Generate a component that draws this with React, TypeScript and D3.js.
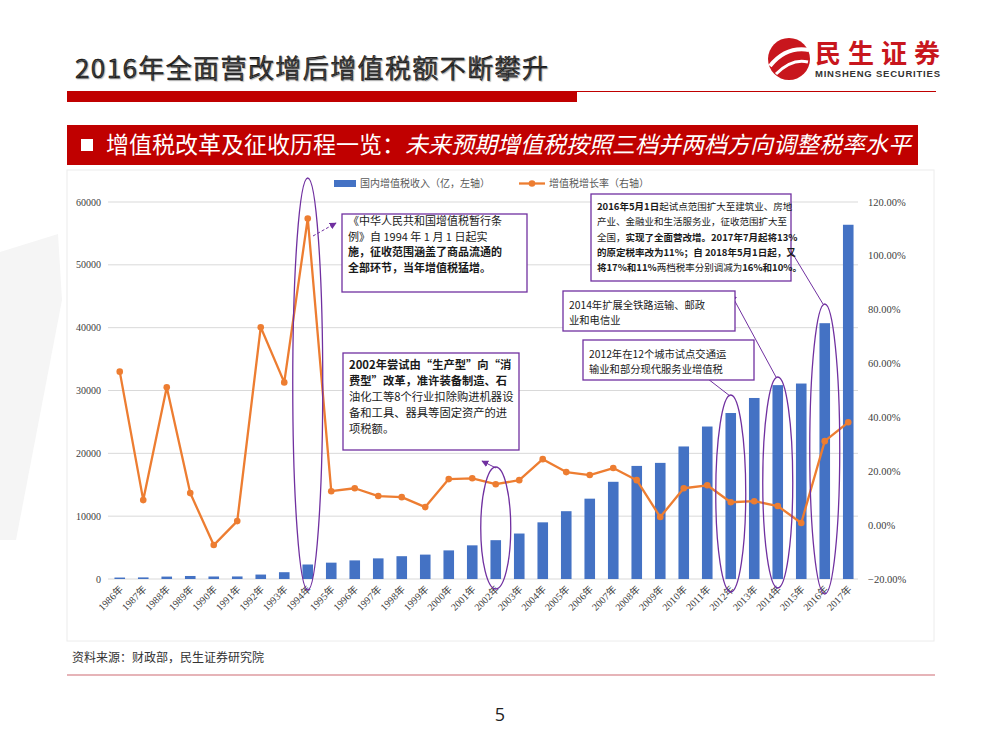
import * as React from 'react';
import * as d3 from 'd3';

// chart data
const years = [
  '1986年', '1987年', '1988年', '1989年', '1990年', '1991年', '1992年', '1993年',
  '1994年', '1995年', '1996年', '1997年', '1998年', '1999年', '2000年', '2001年',
  '2002年', '2003年', '2004年', '2005年', '2006年', '2007年', '2008年', '2009年',
  '2010年', '2011年', '2012年', '2013年', '2014年', '2015年', '2016年', '2017年',
];
const vatRevenue = [
  232, 254, 385, 481, 400, 406, 707, 1081,
  2308, 2602, 2962, 3283, 3628, 3882, 4553, 5357,
  6178, 7237, 9018, 10792, 12785, 15470, 17997, 18481,
  21093, 24267, 26416, 28810, 30855, 31109, 40712, 56378,
];
const vatGrowth = [
  57.0, 9.3, 51.2, 11.9, -7.4, 1.5, 73.5, 53.0,
  113.9, 12.6, 13.7, 10.8, 10.4, 6.7, 17.1, 17.4,
  15.2, 16.7, 24.5, 19.7, 18.6, 21.2, 16.7, 3.0,
  13.7, 14.8, 8.5, 8.9, 7.1, 0.8, 31.2, 38.2,
];
const leftTicks = [0, 10000, 20000, 30000, 40000, 50000, 60000];
const rightTicks = [-20, 0, 20, 40, 60, 80, 100, 120];
const legendLabels = ['国内增值税收入（亿，左轴）', '增值税增长率（右轴）'];

// highlighted years (ellipses): year, top y, bottom y
const circledYears = [
  { year: '1994年', top: 178, bottom: 590 },
  { year: '2002年', top: 467, bottom: 589 },
  { year: '2012年', top: 395, bottom: 592 },
  { year: '2014年', top: 377, bottom: 588 },
  { year: '2016年', top: 304, bottom: 594 },
];

type Seg = [string, boolean];
const notes: { x: number, y: number, w: number, h: number, fs: number, lh: number, base: number, lines: Seg[][] }[] = [
  {
    x: 342, y: 214, w: 185, h: 78, fs: 11, lh: 15.5, base: 225,
    lines: [
      [['《中华人民共和国增值税暂行条', false]],
      [['例》自 1994 年 1 月 1 日起实', false]],
      [['施，征收范围涵盖了商品流通的', true]],
      [['全部环节，当年增值税猛增。', true]],
    ],
  },
  {
    x: 591, y: 194, w: 200, h: 87, fs: 9.5, lh: 15.3, base: 210,
    lines: [
      [['2016年5月1日', true], ['起试点范围扩大至建筑业、房地', false]],
      [['产业、金融业和生活服务业，征收范围扩大至', false]],
      [['全国，', false], ['实现了全面营改增。2017年7月起将13%', true]],
      [['的原定税率改为11%；自 2018年5月1日起，又', true]],
      [['将17%和11%', true], ['两档税率分别调减为', false], ['16%和10%。', true]],
    ],
  },
  {
    x: 563, y: 291, w: 172, h: 40, fs: 10.3, lh: 14.5, base: 309,
    lines: [
      [['2014年扩展全铁路运输、邮政', false]],
      [['业和电信业', false]],
    ],
  },
  {
    x: 583, y: 340, w: 171, h: 40, fs: 10.3, lh: 14.5, base: 358,
    lines: [
      [['2012年在12个城市试点交通运', false]],
      [['输业和部分现代服务业增值税', false]],
    ],
  },
  {
    x: 343, y: 353, w: 176, h: 97, fs: 11.3, lh: 16, base: 369,
    lines: [
      [['2002年尝试由“生产型”向“消', true]],
      [['费型”改革，准许装备制造、石', true]],
      [['油化工等8个行业扣除购进机器设', false]],
      [['备和工具、器具等固定资产的进', false]],
      [['项税额。', false]],
    ],
  },
];

// pointer lines from the ellipses to the boxes
const pointers = [
  { x1: 313, y1: 236, x2: 336, y2: 223, dashed: true },
  { x1: 823, y1: 304, x2: 785, y2: 241, dashed: false },
  { x1: 776, y1: 377, x2: 731, y2: 294, dashed: false },
  { x1: 730, y1: 396, x2: 699, y2: 372, dashed: false },
  { x1: 496, y1: 468, x2: 482, y2: 461, dashed: false },
];

const BLUE = '#4472C4';
const ORANGE = '#ED7D31';
const PURPLE = '#7030A0';
const RED = '#C00000';
const CJK = '"Noto Sans CJK SC", sans-serif';
const SERIF = '"Liberation Serif", "Noto Sans CJK SC", serif';

const drawChart = (node: SVGSVGElement) => {
  const svg = d3.select(node);
  svg.selectAll('*').remove();

  const defs = svg.append('defs');
  defs.append('marker')
    .attr('id', 'arrow')
    .attr('viewBox', '0 0 10 10')
    .attr('refX', 9)
    .attr('refY', 5)
    .attr('markerWidth', 7)
    .attr('markerHeight', 7)
    .attr('markerUnits', 'userSpaceOnUse')
    .attr('orient', 'auto')
    .append('path')
    .attr('d', 'M0,0 L10,5 L0,10 z')
    .attr('fill', PURPLE);

  // faint watermark on the left
  svg.append('polygon')
    .attr('points', '0,252 58,234 62,300 16,540 0,540')
    .attr('fill', '#F5F5F5');

  // page header
  svg.append('text')
    .attr('x', 75)
    .attr('y', 78)
    .attr('font-family', CJK)
    .attr('font-size', 26)
    .attr('font-weight', 400)
    .attr('fill', '#1a1a1a')
    .attr('stroke', '#000')
    .attr('stroke-width', 0.4)
    .attr('textLength', 473)
    .style('text-shadow', '1px 1px 1px #aaa')
    .text('2016年全面营改增后增值税额不断攀升');

  svg.append('rect').attr('x', 67).attr('y', 91).attr('width', 510).attr('height', 11).attr('fill', RED);
  svg.append('line')
    .attr('x1', 577).attr('x2', 936).attr('y1', 91.5).attr('y2', 91.5)
    .attr('stroke', RED).attr('stroke-width', 1.2);

  // logo
  const logo = svg.append('g');
  logo.append('circle').attr('cx', 789).attr('cy', 59).attr('r', 21).attr('fill', '#C8161D');
  logo.append('path')
    .attr('d', 'M770,66 Q786,46 809,50')
    .attr('fill', 'none').attr('stroke', '#fff').attr('stroke-width', 4);
  logo.append('path')
    .attr('d', 'M776,74 Q792,58 808,62')
    .attr('fill', 'none').attr('stroke', '#fff').attr('stroke-width', 3);
  logo.append('text')
    .attr('x', 815).attr('y', 63)
    .attr('font-family', CJK).attr('font-size', 26).attr('font-weight', 700)
    .attr('fill', '#C8161D')
    .attr('textLength', 125)
    .text('民生证券');
  logo.append('text')
    .attr('x', 815).attr('y', 77)
    .attr('font-family', '"Liberation Sans", Arial, sans-serif').attr('font-size', 9.5).attr('font-weight', 700)
    .attr('fill', '#333')
    .attr('textLength', 125)
    .text('MINSHENG SECURITIES');

  // section banner
  svg.append('rect').attr('x', 67).attr('y', 125).attr('width', 851).attr('height', 40).attr('fill', RED);
  svg.append('rect').attr('x', 81).attr('y', 139).attr('width', 12).attr('height', 12).attr('fill', '#fff');
  const banner = svg.append('text')
    .attr('x', 106).attr('y', 153)
    .attr('font-family', CJK).attr('font-size', 23).attr('font-weight', 400)
    .attr('fill', '#fff');
  banner.append('tspan').text('增值税改革及征收历程一览：');
  banner.append('tspan').attr('font-style', 'italic').text('未来预期增值税按照三档并两档方向调整税率水平');

  // chart frame
  svg.append('rect')
    .attr('x', 67).attr('y', 170).attr('width', 867).attr('height', 471)
    .attr('fill', 'none').attr('stroke', '#ECECEC');

  // scales
  const x = d3.scaleBand<string>()
    .domain(years)
    .range([108, 860])
    .paddingInner(0.55)
    .paddingOuter(0.275);
  const xc = (yr: string) => (x(yr) as number) + x.bandwidth() / 2;
  const yL = d3.scaleLinear().domain([0, 60000]).range([579, 202]);
  const yR = d3.scaleLinear().domain([-20, 120]).range([579, 202]);

  // gridlines + left labels
  const grid = svg.append('g');
  leftTicks.forEach((t) => {
    grid.append('line')
      .attr('x1', 108).attr('x2', 858)
      .attr('y1', yL(t)).attr('y2', yL(t))
      .attr('stroke', '#D9D9D9').attr('stroke-width', 1);
    grid.append('text')
      .attr('x', 101).attr('y', yL(t) + 3.5)
      .attr('text-anchor', 'end')
      .attr('font-family', SERIF).attr('font-size', 10)
      .attr('fill', '#404040')
      .text(t);
  });

  // right labels
  rightTicks.forEach((t) => {
    svg.append('text')
      .attr('x', 868).attr('y', yR(t) + 3.5)
      .attr('font-family', SERIF).attr('font-size', 10.5)
      .attr('fill', '#404040')
      .text(`${d3.format('.2f')(t)}%`);
  });

  // bars
  svg.append('g')
    .selectAll('rect')
    .data(vatRevenue)
    .join('rect')
    .attr('x', (d, i) => x(years[i]) as number)
    .attr('y', d => yL(d))
    .attr('width', x.bandwidth())
    .attr('height', d => yL(0) - yL(d))
    .attr('fill', BLUE);

  // growth line
  const line = d3.line<number>()
    .x((d, i) => xc(years[i]))
    .y(d => yR(d));
  svg.append('path')
    .datum(vatGrowth)
    .attr('d', line)
    .attr('fill', 'none')
    .attr('stroke', ORANGE)
    .attr('stroke-width', 2.3)
    .attr('stroke-linejoin', 'round');
  svg.append('g')
    .selectAll('circle')
    .data(vatGrowth)
    .join('circle')
    .attr('cx', (d, i) => xc(years[i]))
    .attr('cy', d => yR(d))
    .attr('r', 3.3)
    .attr('fill', ORANGE);

  // x labels
  const xl = svg.append('g');
  years.forEach((yr) => {
    xl.append('text')
      .attr('transform', `translate(${xc(yr) + 4},${590}) rotate(-45)`)
      .attr('text-anchor', 'end')
      .attr('font-family', SERIF).attr('font-size', 10)
      .attr('fill', '#404040')
      .text(yr);
  });

  // legend
  const lg = svg.append('g').attr('font-family', CJK).attr('font-size', 10).attr('fill', '#595959');
  lg.append('rect').attr('x', 334).attr('y', 180).attr('width', 22).attr('height', 7).attr('fill', BLUE);
  lg.append('text').attr('x', 360).attr('y', 187).text(legendLabels[0]);
  lg.append('line').attr('x1', 519).attr('x2', 545).attr('y1', 183.5).attr('y2', 183.5)
    .attr('stroke', ORANGE).attr('stroke-width', 2.3);
  lg.append('circle').attr('cx', 532).attr('cy', 183.5).attr('r', 3.3).attr('fill', ORANGE);
  lg.append('text').attr('x', 549).attr('y', 187).text(legendLabels[1]);

  // ellipses
  circledYears.forEach((c) => {
    svg.append('ellipse')
      .attr('cx', xc(c.year))
      .attr('cy', (c.top + c.bottom) / 2)
      .attr('rx', 15)
      .attr('ry', (c.bottom - c.top) / 2)
      .attr('fill', 'none')
      .attr('stroke', PURPLE)
      .attr('stroke-width', 1.3);
  });

  // pointers
  pointers.forEach((p) => {
    svg.append('line')
      .attr('x1', p.x1).attr('y1', p.y1).attr('x2', p.x2).attr('y2', p.y2)
      .attr('stroke', PURPLE).attr('stroke-width', 1)
      .attr('stroke-dasharray', p.dashed ? '3,2' : null)
      .attr('marker-end', 'url(#arrow)');
  });

  // note boxes
  notes.forEach((n) => {
    const g = svg.append('g');
    g.append('rect')
      .attr('x', n.x).attr('y', n.y).attr('width', n.w).attr('height', n.h)
      .attr('fill', '#fff').attr('stroke', PURPLE).attr('stroke-width', 1.3);
    n.lines.forEach((segs, li) => {
      const t = g.append('text')
        .attr('x', n.x + 6)
        .attr('y', n.base + li * n.lh)
        .attr('font-family', CJK)
        .attr('font-size', n.fs)
        .attr('fill', '#1a1a1a');
      segs.forEach(([s, bold]) => {
        t.append('tspan').attr('font-weight', bold ? 700 : 400).text(s);
      });
    });
  });

  // footer
  svg.append('text')
    .attr('x', 72).attr('y', 662)
    .attr('font-family', CJK).attr('font-size', 12)
    .attr('fill', '#333')
    .text('资料来源：财政部，民生证券研究院');
  svg.append('line')
    .attr('x1', 67).attr('x2', 935).attr('y1', 675).attr('y2', 675)
    .attr('stroke', '#E6B4B8').attr('stroke-width', 2);
  svg.append('text')
    .attr('x', 500).attr('y', 721)
    .attr('text-anchor', 'middle')
    .attr('font-family', '"Open Sans", "DejaVu Sans", sans-serif').attr('font-size', 18)
    .attr('fill', '#222')
    .text('5');
};

export default function App() {
  const ref = React.useRef<SVGSVGElement>(null);

  React.useEffect(() => {
    if (ref.current) drawChart(ref.current);
  }, []);

  return (
    <svg
      ref={ref}
      width={1000}
      height={750}
      style={{ position: 'absolute', left: 0, top: 0, background: '#fff' }}
    />
  );
}
